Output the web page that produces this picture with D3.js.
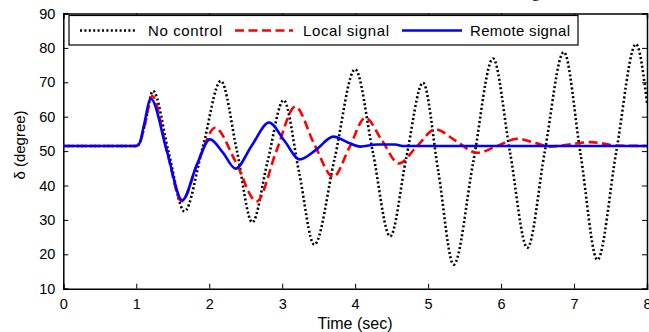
<!DOCTYPE html>
<html>
<head>
<meta charset="utf-8">
<script src="https://cdn.jsdelivr.net/npm/d3@7"></script>
<style>
  body { margin: 0; background: #fff; }
  text { font-family: "Liberation Sans", Arial, sans-serif; fill: #000; }
</style>
</head>
<body>
<div class="chart"></div>
<script>
// values (time in sec, delta in degree)
let noCtrlT = [0, 1.0, 1.05, 1.12, 1.23, 1.44, 1.66, 1.91, 2.16, 2.38, 2.59, 2.8, 3.02, 3.23, 3.44, 3.72, 4.0, 4.24, 4.48, 4.7, 4.93, 5.14, 5.35, 5.62, 5.89, 6.12, 6.36, 6.6, 6.86, 7.09, 7.32, 7.58, 7.85, 8.0];
let noCtrlV = [51.5, 51.5, 52.5, 58, 67.5, 50, 32.5, 51, 70.4, 50, 29.3, 47, 64.8, 44, 22.8, 48, 73.8, 50, 25.2, 48, 69.9, 44, 17.0, 47, 76.9, 50, 21.9, 50, 78.8, 49, 18.4, 50, 81.1, 64];

let localT = [0, 1.0, 1.05, 1.12, 1.22, 1.42, 1.62, 1.85, 2.08, 2.36, 2.65, 2.92, 3.18, 3.44, 3.70, 3.92, 4.14, 4.37, 4.60, 4.85, 5.10, 5.38, 5.67, 5.95, 6.22, 6.45, 6.68, 6.95, 7.23, 7.6, 8.0];
let localV = [51.5, 51.5, 52.5, 58, 66, 50, 35.4, 47, 56.8, 47, 35.4, 50, 62.9, 52, 42.5, 51, 59.7, 53, 46.4, 51.5, 56.3, 53, 49.5, 51.5, 53.6, 52.5, 51.3, 52, 52.6, 51.6, 51.5];

let remoteT = [0, 1.0, 1.05, 1.1, 1.2, 1.42, 1.63, 1.83, 2.01, 2.19, 2.36, 2.58, 2.82, 3.03, 3.24, 3.47, 3.70, 3.9, 4.07, 4.3, 4.55, 4.65, 8.0];
let remoteV = [51.5, 51.5, 52.5, 57, 65.2, 50, 35.7, 46, 53.4, 49.5, 44.9, 51.5, 58.3, 53, 47.6, 50.5, 54.2, 52.5, 51.3, 51.9, 51.9, 51.5, 51.5];

let xTicks = [0, 1, 2, 3, 4, 5, 6, 7, 8];
let yTicks = [10, 20, 30, 40, 50, 60, 70, 80, 90];
let seriesNames = ['No control', 'Local signal', 'Remote signal'];

let width = 649, height = 332;
let margin = { top: 13.5, right: 2, bottom: 43.3, left: 63.3 };
let w = width - margin.left - margin.right;
let h = height - margin.top - margin.bottom;

let svg = d3.select('.chart')
  .append('svg')
    .attr('width', width)
    .attr('height', height);

// clipped caption line from the page above the figure
svg.append('text')
  .attr('x', 536).attr('y', -3.5)
  .style('font-family', '"Liberation Serif", serif')
  .style('font-size', '17px')
  .attr('text-anchor', 'middle')
  .text('g');

let g = svg.append('g')
  .attr('transform', 'translate(' + margin.left + ',' + margin.top + ')');

let x = d3.scaleLinear().domain([0, 8]).range([0, w]);
let y = d3.scaleLinear().domain([10, 90]).range([h, 0]);

g.append('clipPath').attr('id', 'clip')
  .append('rect').attr('width', w).attr('height', h);

// ticks pointing inward on all four sides, labels only left/bottom
let xAxis = d3.axisBottom(x).tickValues(xTicks).tickSize(-5).tickPadding(10).tickFormat(d3.format('d'));
let yAxis = d3.axisLeft(y).tickValues(yTicks).tickSize(-5).tickPadding(8).tickFormat(d3.format('d'));

g.append('g').attr('transform', `translate(0, ${h})`).call(xAxis);
g.append('g').call(yAxis);
g.append('g').call(d3.axisTop(x).tickValues(xTicks).tickSize(-5).tickFormat(''));
g.append('g').attr('transform', `translate(${w}, 0)`)
  .call(d3.axisRight(y).tickValues(yTicks).tickSize(-5).tickFormat(''));

g.selectAll('.domain').attr('stroke', '#000').attr('stroke-width', 1.5);
g.selectAll('.tick line').attr('stroke', '#000').attr('stroke-width', 1);
g.selectAll('.tick text')
  .style('font-family', '"Liberation Sans", Arial, sans-serif')
  .style('font-size', '14.5px')
  .attr('fill', '#000');

let line = d3.line()
  .x(d => x(d[0]))
  .y(d => y(d[1]))
  .curve(d3.curveMonotoneX);

let series = [
  { t: noCtrlT, v: noCtrlV, color: '#000', dash: '2,2.4', sw: 2.6 },
  { t: localT, v: localV, color: '#ff0000', dash: '9,4.5', sw: 2.6 },
  { t: remoteT, v: remoteV, color: '#0000ff', dash: null, sw: 2.6 }
];

let plot = g.append('g').attr('clip-path', 'url(#clip)');
series.forEach(s => {
  plot.append('path')
    .datum(s.t.map((t, i) => [t, s.v[i]]))
    .attr('fill', 'none')
    .attr('stroke', s.color)
    .attr('stroke-width', s.sw)
    .attr('stroke-dasharray', s.dash)
    .attr('d', line);
});

// legend
let lg = svg.append('g');
lg.append('rect')
  .attr('x', 69).attr('y', 15.5)
  .attr('width', 509).attr('height', 29.5)
  .attr('fill', '#fff').attr('stroke', '#000').attr('stroke-width', 1.2);

let legendItems = [
  { x1: 80, x2: 137, tx: 148, tw: 74 },
  { x1: 235, x2: 293, tx: 303, tw: 86 },
  { x1: 402, x2: 462, tx: 470, tw: 100 }
];
legendItems.forEach((it, i) => {
  let s = series[i];
  lg.append('line')
    .attr('x1', it.x1).attr('x2', it.x2)
    .attr('y1', 30.5).attr('y2', 30.5)
    .attr('stroke', s.color)
    .attr('stroke-width', s.sw)
    .attr('stroke-dasharray', s.dash);
  lg.append('text')
    .attr('x', it.tx).attr('y', 36)
    .style('font-size', '15px')
    .attr('textLength', it.tw)
    .attr('lengthAdjust', 'spacing')
    .text(seriesNames[i]);
});

// axis titles
svg.append('text')
  .attr('x', 355).attr('y', 329)
  .attr('text-anchor', 'middle')
  .style('font-size', '16px')
  .text('Time (sec)');

svg.append('text')
  .attr('transform', 'translate(25, 145) rotate(-90)')
  .attr('text-anchor', 'middle')
  .style('font-size', '15px')
  .text('δ (degree)');
</script>
</body>
</html>
